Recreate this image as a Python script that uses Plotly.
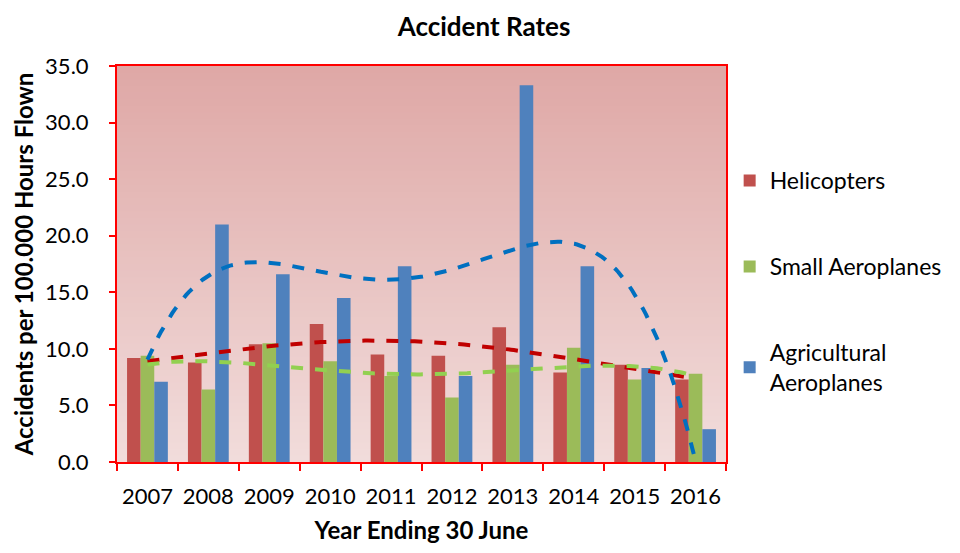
import numpy as np
import plotly.graph_objects as go

years = [2007, 2008, 2009, 2010, 2011, 2012, 2013, 2014, 2015, 2016]
helicopters = [9.2, 8.8, 10.4, 12.2, 9.5, 9.4, 11.9, 7.9, 8.6, 7.3]
small_aeroplanes = [9.4, 6.4, 10.5, 8.9, 7.6, 5.7, 8.6, 10.1, 7.3, 7.8]
agricultural = [7.1, 21.0, 16.6, 14.5, 17.3, 7.6, 33.3, 17.3, 8.3, 2.9]

series = [
    ("Helicopters", helicopters, "#C0504D", "#C00000"),
    ("Small Aeroplanes", small_aeroplanes, "#9BBB59", "#92D050"),
    ("Agricultural<br>Aeroplanes", agricultural, "#4F81BD", "#0070C0"),
]

FONT = "Lato"

fig = go.Figure()

for i, (name, vals, color, _) in enumerate(series):
    fig.add_trace(go.Bar(x=years, y=vals, name=name, marker_color=color,
                         marker_line_width=0, legendgroup=str(i)))

# excel style polynomial trendlines (order 4, x = 1..n)
idx = np.arange(1, len(years) + 1)
xs = np.linspace(1, len(years), 200)
for name, vals, _, tcolor in series:
    coef = np.polyfit(idx, vals, 4)
    fig.add_trace(go.Scatter(x=xs + years[0] - 1, y=np.polyval(coef, xs), mode="lines",
                             line=dict(color=tcolor, width=4, dash="dash"),
                             showlegend=False, hoverinfo="skip"))

# gradient plot background
top = np.array([223, 168, 166])
bot = np.array([242, 221, 220])
n = 60
shapes = []
for k in range(n):
    c = bot + (top - bot) * (k + 0.5) / n
    shapes.append(dict(type="rect", xref="x domain", yref="y domain", x0=0, x1=1,
                       y0=k / n, y1=min(1, (k + 1.6) / n), layer="below", line_width=0,
                       fillcolor="rgb(%d,%d,%d)" % tuple(c.astype(int))))

fig.update_layout(
    width=952, height=545,
    margin=dict(l=109, r=234, t=58, b=91),
    paper_bgcolor="white", plot_bgcolor="white",
    barmode="group", bargap=0.33, bargroupgap=0,
    shapes=shapes,
    font=dict(family=FONT, color="black"),
    title=dict(text="<b>Accident Rates</b>", x=0.5, xanchor="center", y=0.966, yanchor="middle",
               font=dict(size=26, family=FONT)),
    legend=dict(x=1.006, y=0.765, xanchor="left", yanchor="top", tracegroupgap=53,
                font=dict(size=23, family=FONT), bgcolor="rgba(0,0,0,0)"),
    xaxis=dict(range=[2006.5, 2016.5], tickvals=years, ticktext=[str(y) for y in years],
               ticks="", tickfont=dict(size=22), ticklabelstandoff=14, showline=True,
               linecolor="red", linewidth=2, mirror=True, showgrid=False, zeroline=False,
               minor=dict(tick0=2006.5, dtick=1, ticks="outside", ticklen=7, tickcolor="red",
                          tickwidth=2, showgrid=False),
               title=dict(text="<b>Year Ending 30 June</b>", font=dict(size=24), standoff=14)),
    yaxis=dict(range=[0, 35], dtick=5, tickformat=".1f", ticks="outside", ticklen=6,
               tickcolor="red", tickwidth=2, tickfont=dict(size=22), ticklabelstandoff=16,
               showline=True, linecolor="red", linewidth=2, mirror=True, showgrid=False,
               zeroline=False,
               title=dict(text="<b>Accidents per 100.000 Hours Flown</b>", font=dict(size=24),
                          standoff=5)),
)

fig.write_html("out.html")
